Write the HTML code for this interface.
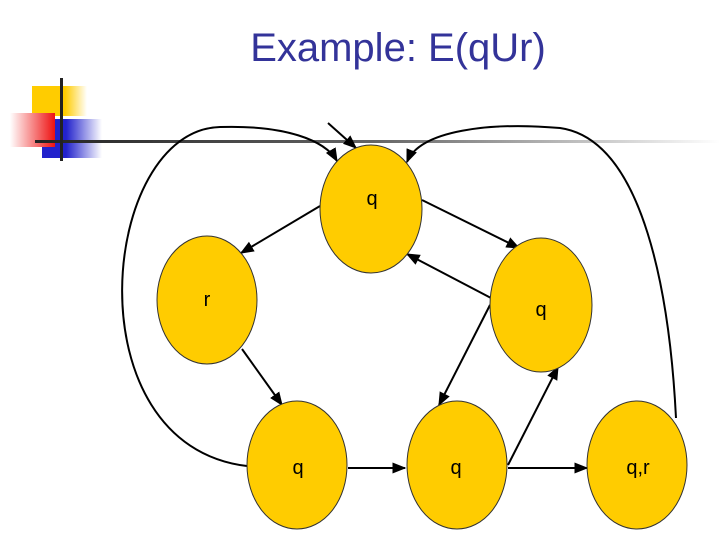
<!DOCTYPE html>
<html><head><meta charset="utf-8"><style>
html,body{margin:0;padding:0;background:#fff;width:720px;height:540px;overflow:hidden}
svg{display:block}
</style></head><body>
<svg width="720" height="540" xmlns="http://www.w3.org/2000/svg">
<defs>
<linearGradient id="hl" x1="0" x2="1"><stop offset="0" stop-color="#222"/><stop offset="0.5" stop-color="#666"/><stop offset="1" stop-color="#fff"/></linearGradient>
<linearGradient id="yl" x1="0" x2="1"><stop offset="0.6" stop-color="#ffcc00"/><stop offset="1" stop-color="#fff"/></linearGradient>
<linearGradient id="rd" x1="1" x2="0"><stop offset="0" stop-color="#ee1111"/><stop offset="1" stop-color="#fff"/></linearGradient>
<linearGradient id="bl" x1="0" x2="1"><stop offset="0.4" stop-color="#2222cc"/><stop offset="1" stop-color="#fff"/></linearGradient>
<marker id="a" viewBox="0 0 10 10" refX="9" refY="5" markerWidth="7" markerHeight="7" orient="auto"><path d="M0,1 L10,5 L0,9 z" fill="#000"/></marker>
</defs>
<rect x="32" y="86" width="55" height="30" fill="url(#yl)"/>
<rect x="42" y="119" width="60" height="39" fill="url(#bl)"/>
<rect x="10" y="113" width="45" height="34" fill="url(#rd)"/>
<rect x="35" y="140" width="685" height="3" fill="url(#hl)"/>
<rect x="60" y="78" width="3" height="83" fill="#222"/>
<text x="398" y="61" text-anchor="middle" font-family="Liberation Sans, sans-serif" font-size="40" fill="#333399">Example: E(qUr)</text>
<g fill="none" stroke="#000" stroke-width="2">
<path d="M328,123 L356,148" marker-end="url(#a)"/>
<path d="M247,466 C70,445 100,130 220,127 C285,125 325,140 337,161" marker-end="url(#a)"/>
<path d="M676,418 C670,300 645,140 560,128 C490,122 420,130 407,162" marker-end="url(#a)"/>
<path d="M320,206 L241,253" marker-end="url(#a)"/>
<path d="M422,200 L519,248" marker-end="url(#a)"/>
<path d="M491,298 L407,254" marker-end="url(#a)"/>
<path d="M242,349 L282,405" marker-end="url(#a)"/>
<path d="M490,305 L439,405" marker-end="url(#a)"/>
<path d="M508,465 L558,367" marker-end="url(#a)"/>
<path d="M348,468 L405,468" marker-end="url(#a)"/>
<path d="M508,468 L587,468" marker-end="url(#a)"/>
</g>
<g fill="#ffcc00" stroke="#333" stroke-width="1">
<ellipse cx="371" cy="209" rx="51" ry="64"/>
<ellipse cx="207" cy="300" rx="50" ry="64"/>
<ellipse cx="541" cy="305" rx="51" ry="67"/>
<ellipse cx="297" cy="465" rx="50" ry="64"/>
<ellipse cx="457" cy="465" rx="50" ry="64"/>
<ellipse cx="637" cy="465" rx="50" ry="64"/>
</g>
<g font-family="Liberation Sans, sans-serif" font-size="20" fill="#000" text-anchor="middle">
<text x="372" y="205">q</text>
<text x="207" y="306">r</text>
<text x="541" y="316">q</text>
<text x="298" y="474">q</text>
<text x="456" y="474">q</text>
<text x="638" y="474">q,r</text>
</g>
</svg>
</body></html>
